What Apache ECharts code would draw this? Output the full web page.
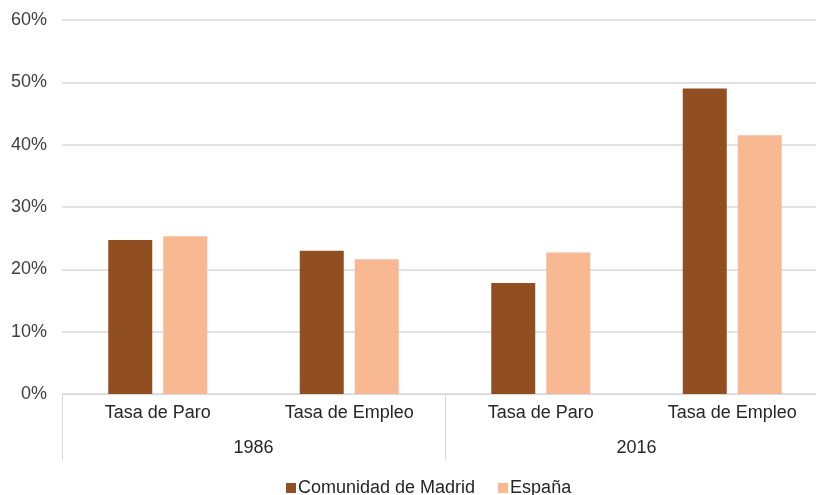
<!DOCTYPE html>
<html>
<head>
<meta charset="utf-8">
<script src="https://cdn.jsdelivr.net/npm/echarts@6/dist/echarts.min.js"></script>
<style>
  html, body { margin: 0; padding: 0; background: #fff; }
  #chart { width: 816px; height: 495px; }
</style>
</head>
<body>
<div id="chart"></div>
<script>
var categories = ['Tasa de Paro', 'Tasa de Empleo', 'Tasa de Paro', 'Tasa de Empleo'];
var years = ['1986', '2016'];
var madrid = [24.7, 23.0, 17.8, 49.0];
var espana = [25.3, 21.6, 22.7, 41.5];

var chart = echarts.init(document.getElementById('chart'));

var font = 'Liberation Sans, Arial, sans-serif';

chart.setOption({
    animation: false,
    grid: { left: 62, width: 766, top: 20, height: 374, outerBoundsMode: 'none', containLabel: false },
    legend: {
        top: 479,
        left: 286,
        padding: 0,
        itemWidth: 10,
        itemHeight: 10,
        itemGap: 23,
        icon: 'rect',
        textStyle: { fontFamily: font, fontSize: 18, color: '#262626', padding: [0, 0, 0, -3] },
        data: ['Comunidad de Madrid', 'España']
    },
    xAxis: [
        {
            type: 'category',
            data: categories,
            axisLine: { lineStyle: { color: '#d9d9d9', width: 1 } },
            axisTick: { show: false },
            axisLabel: { margin: 10, fontFamily: font, fontSize: 18, color: '#262626' }
        },
        {
            type: 'category',
            data: years,
            position: 'bottom',
            axisLine: { show: false },
            axisTick: { show: true, length: 66, lineStyle: { color: '#d9d9d9' } },
            axisLabel: { margin: 45, fontFamily: font, fontSize: 18, color: '#262626' }
        }
    ],
    yAxis: {
        type: 'value',
        min: 0,
        max: 60,
        interval: 10,
        axisLine: { show: false },
        axisTick: { show: false },
        axisLabel: { formatter: '{value}%', margin: 15, fontFamily: font, fontSize: 18, color: '#404040' },
        splitLine: { lineStyle: { color: '#d9d9d9', width: 1.5 } }
    },
    series: [
        {
            name: 'Comunidad de Madrid',
            type: 'bar',
            xAxisIndex: 0,
            barWidth: 44,
            barGap: '25%',
            itemStyle: { color: '#914F21' },
            data: madrid
        },
        {
            name: 'España',
            type: 'bar',
            xAxisIndex: 0,
            barWidth: 44,
            barGap: '25%',
            itemStyle: { color: '#F8B891' },
            data: espana
        }
    ]
});
</script>
</body>
</html>
